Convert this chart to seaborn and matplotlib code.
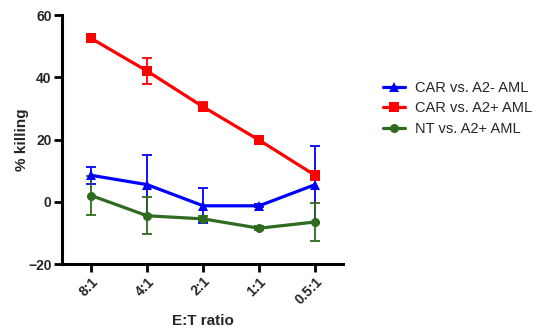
import numpy as np
import pandas as pd
import matplotlib
matplotlib.use("Agg")
import matplotlib.pyplot as plt
import seaborn as sns

# Data
ratios = ['8:1', '4:1', '2:1', '1:1', '0.5:1']
car_neg = [8.5, 5.5, -1.3, -1.3, 5.5]
car_neg_err = [2.7, 9.6, 5.6, 0.5, 12.3]
car_pos = [52.5, 42.0, 30.5, 19.8, 8.5]
car_pos_err = [0.8, 4.3, 1.5, 0.6, 1.5]
nt_pos = [2.0, -4.5, -5.5, -8.5, -6.5]
nt_pos_err = [6.2, 5.9, 0.8, 0.6, 6.0]

series = ['CAR vs. A2- AML', 'CAR vs. A2+ AML', 'NT vs. A2+ AML']
colors = ['#0000ff', '#ff0000', '#2e6b1e']
markers = ['^', 's', 'o']

df = pd.DataFrame({
    'ratio': ratios * 3,
    'x': list(range(len(ratios))) * 3,
    'killing': car_neg + car_pos + nt_pos,
    'err': car_neg_err + car_pos_err + nt_pos_err,
    'group': [s for s in series for _ in ratios],
})

sns.set_style("ticks")
plt.rcParams['font.family'] = ['Liberation Sans', 'DejaVu Sans']

fig = plt.figure(figsize=(5.37, 3.3), dpi=100)
ax = fig.add_axes([0.1155, 0.2, 0.5235, 0.7545])

# error bars first, lines on top
for s, c in zip(series, colors):
    d = df[df['group'] == s]
    ax.errorbar(d['x'], d['killing'], yerr=d['err'], fmt='none', ecolor=c,
                elinewidth=1.3, capsize=3.5, capthick=1.3, zorder=2)

sns.lineplot(data=df, x='x', y='killing', hue='group', style='group',
             palette=colors, markers=markers, dashes=False, linewidth=2.3,
             markersize=6.5, markeredgewidth=0, ax=ax, zorder=3)

ax.set_xlim(-0.52, 4.5)
ax.set_ylim(-20, 60)
ax.set_yticks([-20, 0, 20, 40, 60])
ax.set_xticks(range(len(ratios)))
ax.set_xticklabels(ratios, rotation=45, ha='right', rotation_mode='anchor')
for lab in ax.get_xticklabels() + ax.get_yticklabels():
    lab.set_fontweight('bold')
    lab.set_fontsize(10)
ax.set_xlabel('E:T ratio', fontsize=11, fontweight='bold', labelpad=5)
ax.set_ylabel('% killing', fontsize=11, fontweight='bold', labelpad=-1)

for sp in ['left', 'bottom']:
    ax.spines[sp].set_linewidth(2.2)
    ax.spines[sp].set_color('black')
ax.spines['top'].set_visible(False)
ax.spines['right'].set_visible(False)
ax.tick_params(width=2, length=6, color='black', pad=1.5)

handles, labels = ax.get_legend_handles_labels()
ax.legend(handles, labels, loc='center left', bbox_to_anchor=(1.095, 0.625),
          frameon=False, fontsize=10.5, handlelength=1.5, labelspacing=0.45,
          handletextpad=0.7)

fig.savefig('out.png', dpi=100)
